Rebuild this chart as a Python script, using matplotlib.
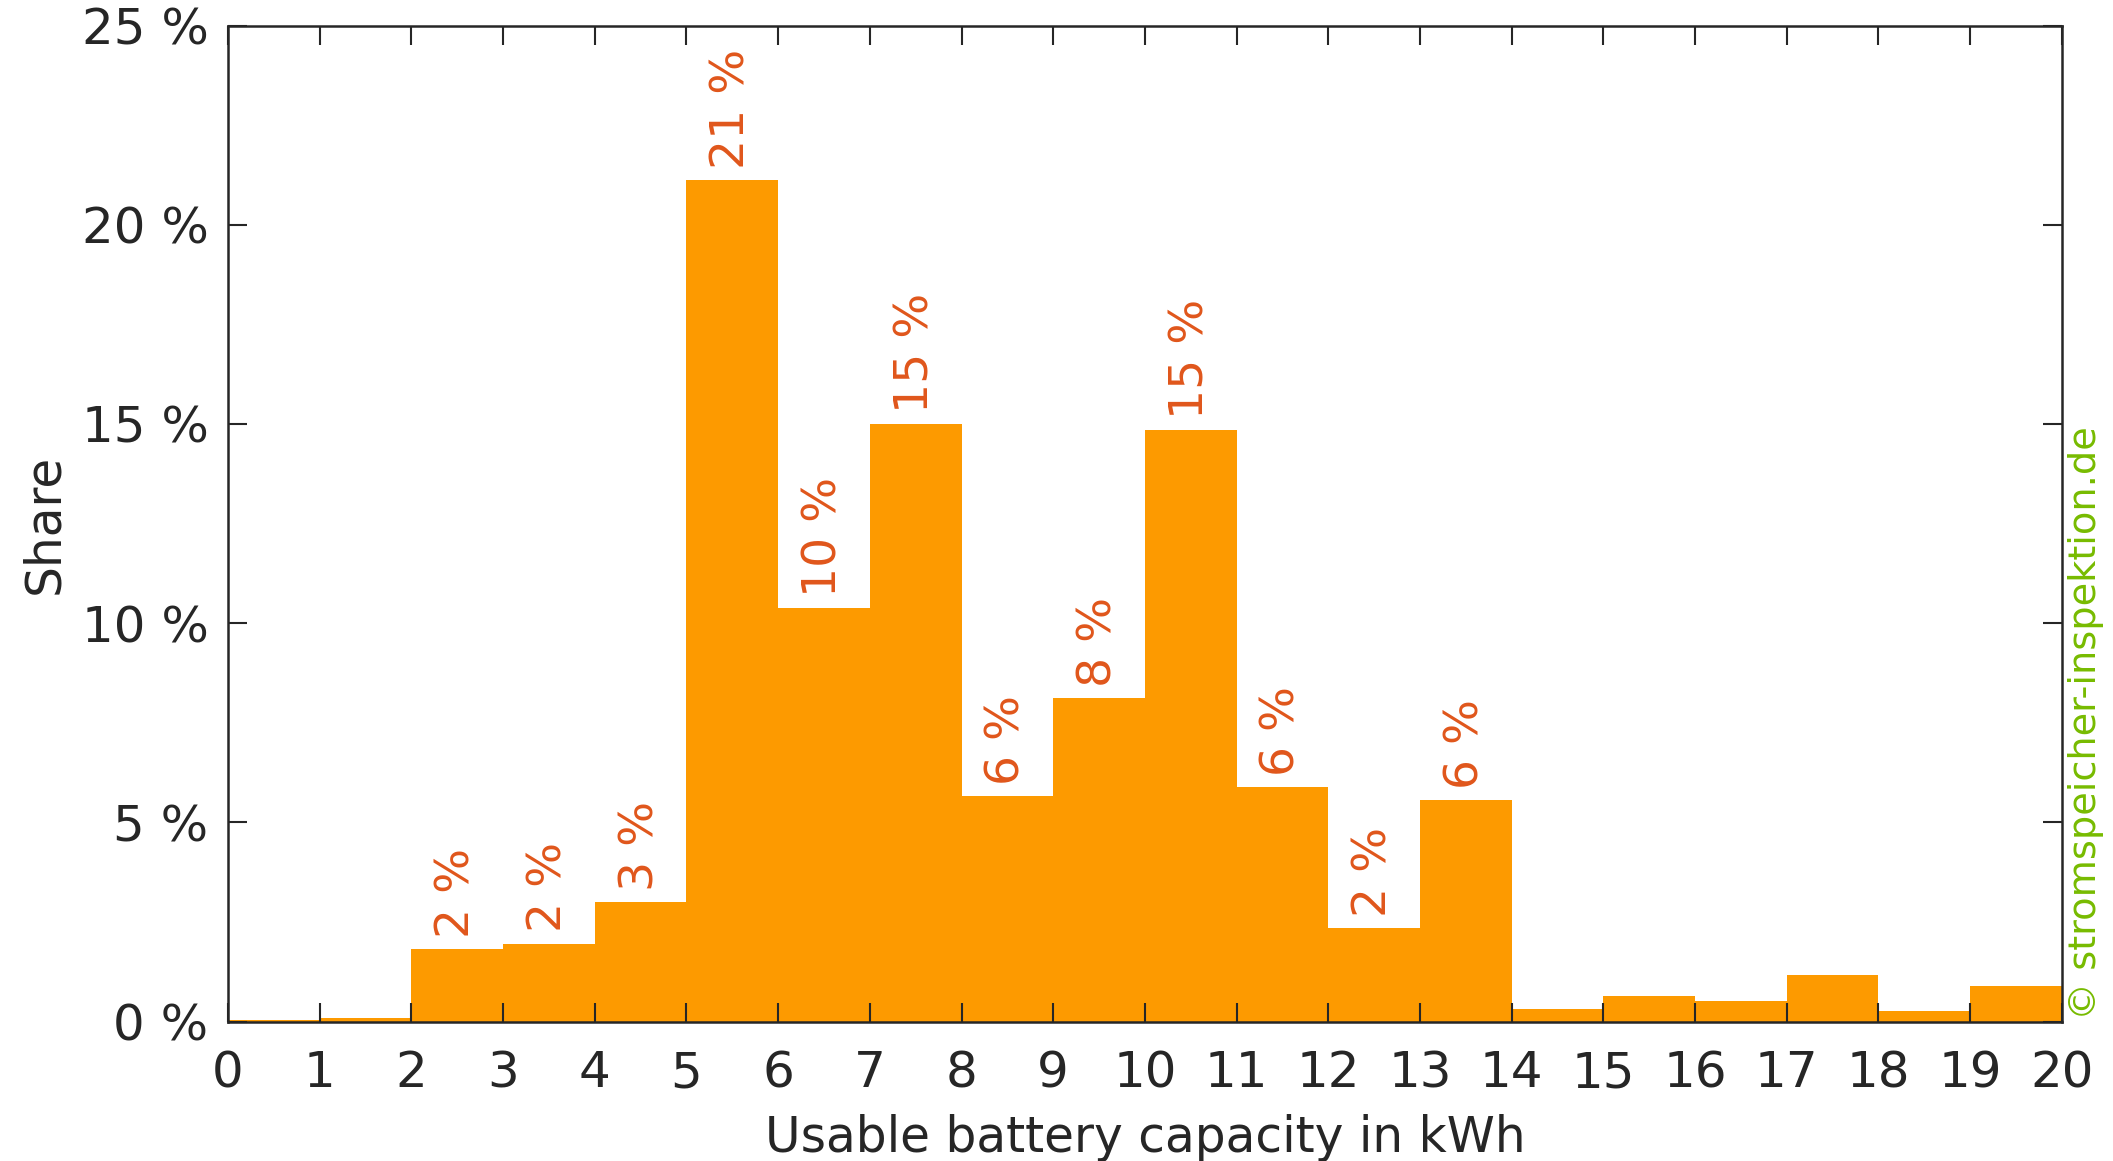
import matplotlib.pyplot as plt
from matplotlib.ticker import FuncFormatter

# Share of systems per usable capacity bin (kWh), in percent
bin_edges = list(range(0, 20))
shares = [0.04, 0.1, 1.83, 1.96, 3.0, 21.12, 10.37, 15.0, 5.66, 8.12,
          14.85, 5.88, 2.36, 5.56, 0.31, 0.64, 0.53, 1.17, 0.28, 0.90]
# value labels shown above bins 2..13
labelled = [False, False, True, True, True, True, True, True, True, True,
            True, True, True, True, False, False, False, False, False, False]
x_ticks = list(range(0, 21))
y_ticks = [0, 5, 10, 15, 20, 25]

bar_color = "#FD9A00"
label_color = "#E0561B"
text_color = "#262626"

fig = plt.figure(figsize=(21.13, 11.61), dpi=100)
ax = fig.add_axes([0.1079, 0.12, 0.8679, 0.858])

ax.bar(bin_edges, shares, width=1.0, align="edge", color=bar_color, linewidth=0)

for x, v, show in zip(bin_edges, shares, labelled):
    if show:
        ax.annotate(f"{round(v):d} %", (x + 0.5, v), xytext=(0, 8),
                    textcoords="offset points", rotation=90, ha="center",
                    va="bottom", color=label_color, fontsize=34)

ax.set_xlim(0, 20)
ax.set_ylim(0, 25)
ax.set_xticks(x_ticks)
ax.set_yticks(y_ticks)
ax.yaxis.set_major_formatter(FuncFormatter(lambda v, p: f"{v:.0f} %"))

ax.tick_params(direction="in", length=14, width=1.5, top=True, right=True,
               labelsize=36, colors=text_color)
ax.tick_params(axis="x", pad=20)
ax.tick_params(axis="y", pad=14)
for s in ax.spines.values():
    s.set_linewidth(1.8)
    s.set_color(text_color)

ax.set_xlabel("Usable battery capacity in kWh", fontsize=35, color=text_color,
              labelpad=12)
ax.set_ylabel("Share", fontsize=35, color=text_color, labelpad=10)

fig.text(2086 / 2113, 1 - 1020 / 1161, "© stromspeicher-inspektion.de",
         rotation=90, ha="center", va="bottom", color="#77BB00", fontsize=27.5)

fig.savefig("out.png", dpi=100)
